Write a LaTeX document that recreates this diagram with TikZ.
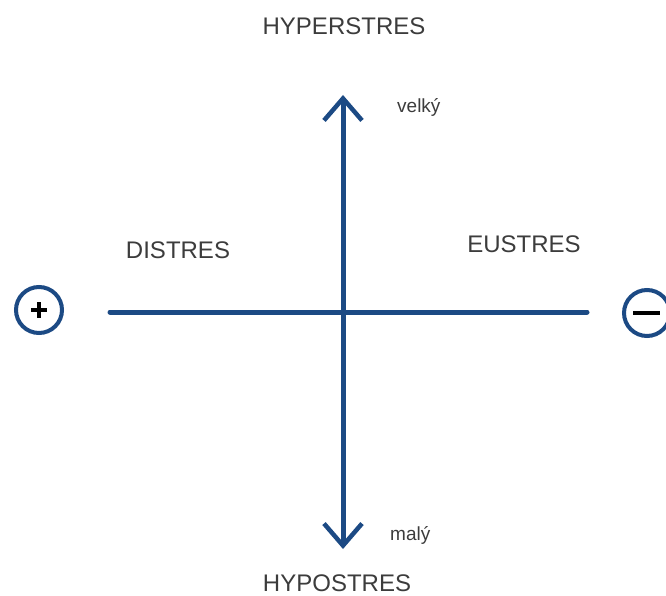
\documentclass[tikz,border=0pt]{standalone}
\usepackage{fontspec}
\setmainfont{Liberation Sans}
\usetikzlibrary{arrows.meta}
\definecolor{axisblue}{RGB}{28,74,132}
\definecolor{txtgray}{RGB}{60,60,60}
\begin{document}
\begin{tikzpicture}[x=1pt,y=-1pt,
  axis/.style={draw=axisblue,line width=5pt,line cap=round},
  barb/.style={-{Straight Barb[length=22pt,width=38pt,line width=4.5pt]}},
  bigtext/.style={text=txtgray,font=\fontsize{24}{28}\selectfont,inner sep=0pt},
  smalltext/.style={text=txtgray,font=\fontsize{19}{22}\selectfont,inner sep=0pt},
  signcircle/.style={circle,draw=axisblue,line width=4pt,minimum size=46pt,inner sep=0pt}]
\useasboundingbox (0,0) rectangle (666,596);
% axes
\coordinate (left) at (110,312);
\coordinate (right) at (587,312);
\coordinate (top) at (343,95);
\coordinate (bottom) at (343,549);
\draw[axis] (left) -- (right);
\draw[axis,barb] (bottom |- right) -- (top);
\draw[axis,barb] (top |- right) -- (bottom);
% sign circles
\node[signcircle] (plus) at (39,310) {};
\node[signcircle] (minus) at (647,313) {};
\draw[black,line width=4pt] (31,310) -- (47,310) (39,302) -- (39,318);
\draw[black,line width=4pt] (633,313) -- (660,313);
% labels
\node[bigtext] (hyper) at (344,26) {HYPERSTRES};
\node[bigtext] (hypo) at (337,583) {HYPOSTRES};
\node[bigtext] (distres) at (178,250) {DISTRES};
\node[bigtext] (eustres) at (524,244) {EUSTRES};
\node[smalltext,anchor=base west] (velky) at (397,113) {velký};
\node[smalltext,anchor=base west] (maly) at (390,540) {malý};
\end{tikzpicture}
\end{document}
